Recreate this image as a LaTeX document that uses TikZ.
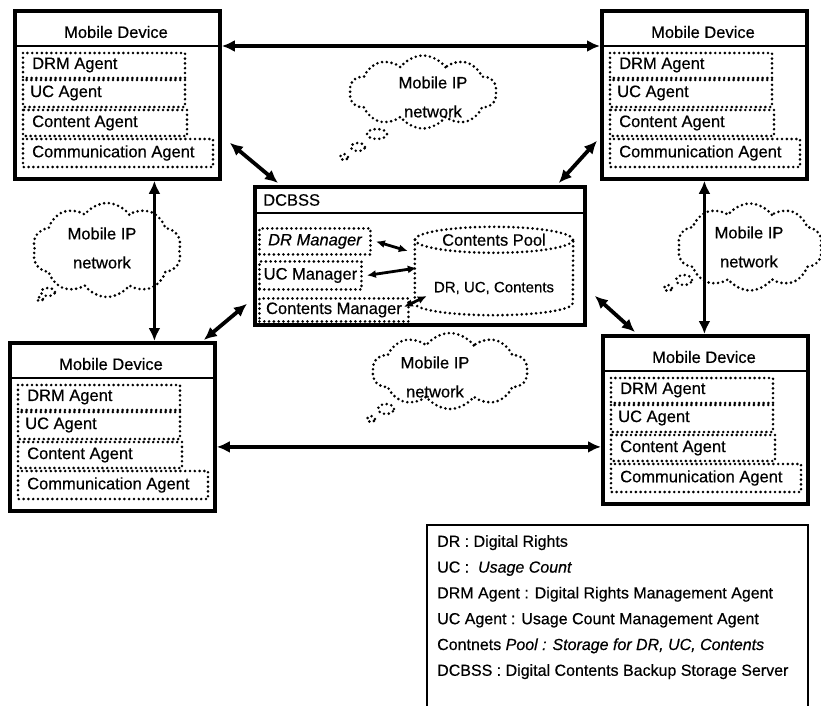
\documentclass[tikz,border=0pt]{standalone}
\usepackage{fontspec}
\setmainfont{Liberation Sans}[RawFeature={embolden=0.5}]
\usetikzlibrary{arrows.meta,shapes.symbols}

\begin{document}
\begin{tikzpicture}[x=1pt,y=-1pt, font=\fontsize{16.5}{19}\selectfont,
  devbox/.style={draw, line width=3.8pt, minimum width=205pt, minimum height=168pt, anchor=north west, inner sep=0pt},
  dotbox/.style={line width=2.9pt, dash pattern=on 0pt off 4.8pt, line cap=round},
  mgr/.style={draw, dotbox, anchor=north west, inner sep=0pt},
  link/.style={line width=3.8pt, {Latex[length=13pt,width=12pt]}-{Latex[length=13pt,width=12pt]}},
  sublink/.style={line width=2.8pt, {Latex[length=9pt,width=8pt]}-{Latex[length=9pt,width=8pt]}},
  txt/.style={anchor=west, inner sep=0pt},
  net/.style={cloud, cloud puffs=10, cloud puff arc=110, draw, dotbox, inner sep=0pt},
  nettxt/.style={align=center, inner sep=0pt}]
\useasboundingbox (0,0) rectangle (821,706);

% clouds
\node[net, minimum width=147pt, minimum height=73pt] (cloud-top) at (423,92) {};
\node[nettxt] (cloud-top-t) at (433,97) {Mobile IP\\[10pt]network};
\draw[dotbox] (377,134) ellipse [x radius=10pt, y radius=5pt];
\draw[dotbox] (358,147) ellipse [x radius=7pt, y radius=4pt];
\draw[dotbox] (344,157) ellipse [x radius=4pt, y radius=3pt];

\node[net, minimum width=149pt, minimum height=94pt] (cloud-left) at (107,250) {};
\node[nettxt] (cloud-left-t) at (102,248) {Mobile IP\\[10pt]network};
\draw[dotbox] (48,292) ellipse [x radius=7pt, y radius=4pt];
\draw[dotbox] (40,299) ellipse [x radius=3pt, y radius=2pt];

\node[net, minimum width=145pt, minimum height=87pt] (cloud-right) at (750,247) {};
\node[nettxt] (cloud-right-t) at (749,247) {Mobile IP\\[10pt]network};
\draw[dotbox] (684,280) ellipse [x radius=8pt, y radius=5pt];
\draw[dotbox] (668,288) ellipse [x radius=4pt, y radius=3pt];

\node[net, minimum width=155pt, minimum height=76pt] (cloud-bot) at (450,371) {};
\node[nettxt] (cloud-bot-t) at (435,377) {Mobile IP\\[10pt]network};
\draw[dotbox] (386,409) ellipse [x radius=8pt, y radius=5pt];
\draw[dotbox] (371,419) ellipse [x radius=4pt, y radius=3pt];

% mobile devices
\foreach \n/\x/\y in {tl/13/9, tr/600/9, bl/8/341, br/601/334}{
  \node[devbox] (\n) at (\x,\y) {};
  \draw[line width=2.8pt] (\x,\y+37) -- (\x+205,\y+37);
  \node[inner sep=0pt] (\n-title) at (\x+103,\y+23) {Mobile Device};
  \draw[dotbox] (\x+10,\y+44) rectangle (\x+172,\y+69);
  \draw[dotbox] (\x+10,\y+71) rectangle (\x+172,\y+98);
  \draw[dotbox] (\x+10,\y+101) rectangle (\x+174,\y+127);
  \draw[dotbox] (\x+10,\y+130) rectangle (\x+200,\y+158);
  \node[txt] (\n-drm) at (\x+19,\y+56) {DRM Agent};
  \node[txt] (\n-uc) at (\x+17,\y+84) {UC Agent};
  \node[txt] (\n-con) at (\x+19,\y+114) {Content Agent};
  \node[txt] (\n-com) at (\x+19,\y+144) {Communication Agent};
}

% server
\node[devbox, minimum width=330pt, minimum height=138pt] (dcbss) at (253,185) {};
\draw[line width=2.8pt] (253,213) -- (583,213);
\node[txt] (dcbss-title) at (263,200) {DCBSS};
\node[mgr, minimum width=111pt, minimum height=26pt] (drmgr) at (258,227) {\itshape DR Manager};
\node[mgr, minimum width=102pt, minimum height=28pt] (ucmgr) at (258,260) {UC Manager};
\node[mgr, minimum width=149pt, minimum height=23pt] (cmgr) at (258,297) {Contents Manager};
\node[minimum width=158pt, minimum height=88pt, inner sep=0pt] (pool) at (494,271) {};
\draw[dotbox] ([yshift=-13pt]pool.north west) -- ([yshift=12pt]pool.south west)
  arc [start angle=180, end angle=360, x radius=79pt, y radius=12pt] -- ([yshift=-13pt]pool.north east);
\draw[dotbox] ([yshift=-13pt]pool.north) ellipse [x radius=79pt, y radius=13pt];
\node (pool-title) at ([yshift=-13pt]pool.north) {Contents Pool};
\node[font=\fontsize{15}{18}\selectfont] (pool-data) at ([yshift=-17pt]pool.center) {DR, UC, Contents};
\draw[sublink] ([xshift=4pt]drmgr.east) -- ([xshift=-7pt,yshift=20pt]pool.west);
\draw[sublink] ([xshift=4pt]ucmgr.east) -- ([xshift=2pt,yshift=3pt]pool.west);
\draw[sublink] ([xshift=-6pt,yshift=3pt]cmgr.east) -- ([xshift=12pt,yshift=-25pt]pool.west);

% links
\draw[link] ([yshift=-37pt]tl.north east) -- ([yshift=-37pt]tr.north west);
\draw[link] ([xshift=8pt,yshift=38pt]tl.south east) -- ([xshift=25pt,yshift=2pt]dcbss.north west);
\draw[link] ([xshift=-3pt,yshift=40pt]tr.south west) -- ([xshift=-28pt,yshift=2pt]dcbss.north east);
\draw[link] ([xshift=37pt]tl.south) -- ([xshift=42pt]bl.north);
\draw[link] (tr.south) -- (tr.south |- br.north);
\draw[link] ([xshift=-6pt,yshift=23pt]dcbss.south west) -- ([xshift=-13pt,yshift=1pt]bl.north east);
\draw[link] ([xshift=8pt,yshift=31pt]dcbss.south east) -- ([xshift=34pt,yshift=2pt]br.north west);
\draw[link] ([yshift=-20pt]bl.east) -- ([yshift=-27pt]br.west);

% legend
\draw[line width=1.8pt] (427,715) -- (427,525) -- (808,525) -- (808,715);
\node[anchor=north west, align=left, inner sep=0pt, font=\fontsize{16}{25.8}\selectfont] (legend) at (437,535)
  {DR : Digital Rights\\
   UC : \ \textit{Usage Count}\\
   DRM Agent : Digital Rights Management Agent\\
   UC Agent : Usage Count Management Agent\\
   Contnets \textit{Pool : Storage for DR, UC, Contents}\\
   DCBSS : Digital Contents Backup Storage Server};
\end{tikzpicture}
\end{document}
